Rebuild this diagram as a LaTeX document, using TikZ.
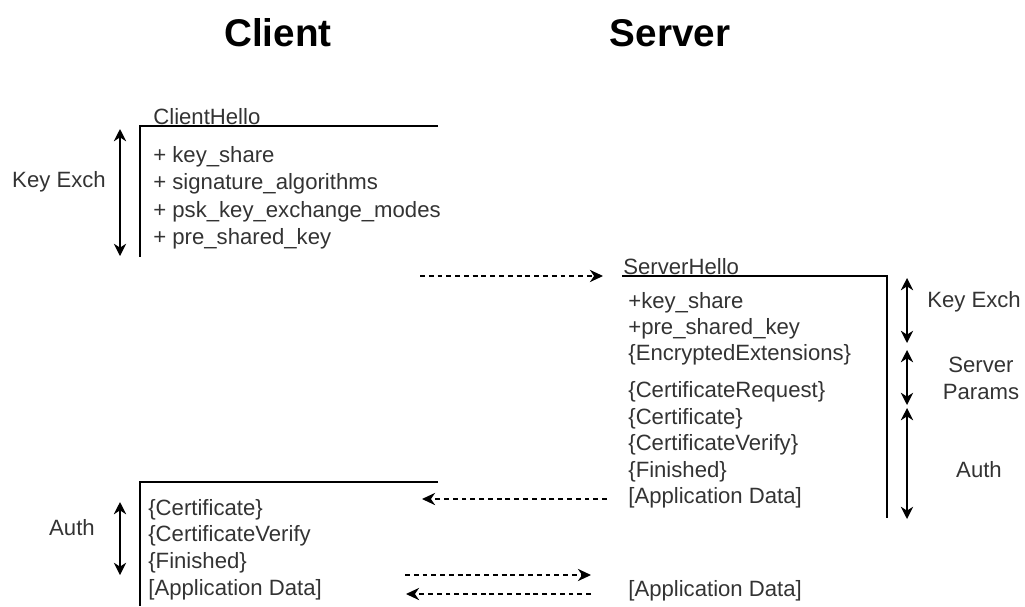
\documentclass[tikz,border=0pt]{standalone}
\usepackage{fontspec}
\setmainfont{Liberation Sans}
\usetikzlibrary{positioning}
\usetikzlibrary{arrows.meta}

\tikzset{
  hdr/.style={inner sep=0pt, font=\fontsize{22}{26}\selectfont\bfseries},
  msg/.style={anchor=west, inner sep=0pt, text=black!80, text height=11pt, text depth=2.5pt, font=\fontsize{12.6}{15}\selectfont},
  phase/.style={inner sep=0pt, align=center, text=black!80, font=\fontsize{12.6}{15.5}\selectfont},
  twoway/.style={{Stealth[length=7pt,width=7pt]}-{Stealth[length=7pt,width=7pt]}, line width=0.85pt},
  flow/.style={-{Stealth[length=7.5pt,width=7pt]}, dash pattern=on 2.8pt off 2.2pt, line width=0.7pt},
  wire/.style={line width=0.6pt}
}

\begin{document}
\begin{tikzpicture}[x=0.02cm, y=-0.02cm]
    \useasboundingbox (0,0) rectangle (1025,606);
    % Headings
    \node [hdr] (client) at (278,33) {Client};
    \node [hdr] (server) at (670,33) {Server};

    % ClientHello
    \node [msg] (chello) at (153,117) {ClientHello};
    \node [msg] (ch1) at (153,155) {+ key\_share};
    \node [msg] (ch2) at (153,182) {+ signature\_algorithms};
    \node [msg] (ch3) at (153,210) {+ psk\_key\_exchange\_modes};
    \node [msg] (ch4) at (153,237) {+ pre\_shared\_key};
    \coordinate (chR) at (438,126);
    \coordinate (chL) at (140,126);
    \coordinate (chB) at (140,257);
    \draw [wire] (chR) -- (chL) -- (chB);
    \coordinate (ckxT) at (120,129);
    \coordinate (ckxB) at (120,256);
    \draw [twoway] (ckxT) -- (ckxB);
    \node [phase] (ckx) at (59,182) {Key Exch};

    % ServerHello
    \node [msg] (shello) at (623,267) {ServerHello};
    \node [msg] (sh1) at (628,301) {+key\_share};
    \node [msg] (sh2) at (628,327) {+pre\_shared\_key};
    \node [msg] (sh3) at (628,353) {\{EncryptedExtensions\}};
    \node [msg] (sh4) at (628,390) {\{CertificateRequest\}};
    \node [msg] (sh5) at (628,417) {\{Certificate\}};
    \node [msg] (sh6) at (628,443) {\{CertificateVerify\}};
    \node [msg] (sh7) at (628,470) {\{Finished\}};
    \node [msg] (sh8) at (628,496) {[Application Data]};
    \coordinate (shL) at (622,276);
    \coordinate (shR) at (887,276);
    \coordinate (shB) at (887,518);
    \draw [wire] (shL) -- (shR) -- (shB);
    \coordinate (skxT) at (907,278);
    \coordinate (skxB) at (907,343);
    \coordinate (sprT) at (907,350);
    \coordinate (sprB) at (907,405);
    \coordinate (sauT) at (907,408);
    \coordinate (sauB) at (907,519);
    \draw [twoway] (skxT) -- (skxB);
    \draw [twoway] (sprT) -- (sprB);
    \draw [twoway] (sauT) -- (sauB);
    \node [phase] (skx) at (974,302) {Key Exch};
    \node [phase] (spr) at (981,378) {Server\\Params};
    \node [phase] (sau) at (979,470) {Auth};

    % Client Finished
    \node [msg] (cf1) at (148,508) {\{Certificate\}};
    \node [msg] (cf2) at (148,534) {\{CertificateVerify};
    \node [msg] (cf3) at (148,561) {\{Finished\}};
    \node [msg] (cf4) at (148,588) {[Application Data]};
    \coordinate (cfR) at (438,482);
    \coordinate (cfL) at (140,482);
    \coordinate (cfB) at (140,606);
    \draw [wire] (cfR) -- (cfL) -- (cfB);
    \coordinate (cauT) at (120,502);
    \coordinate (cauB) at (120,575);
    \draw [twoway] (cauT) -- (cauB);
    \node [phase] (cau) at (72,528) {Auth};

    \node [msg] (appdata) at (628,589) {[Application Data]};

    % Messages
    \coordinate (m1s) at (420,276);
    \coordinate (m1e) at (603,276);
    \draw [flow] (m1s) -- (m1e);
    \coordinate (m2s) at (607,499);
    \coordinate (m2e) at (422,499);
    \draw [flow] (m2s) -- (m2e);
    \coordinate (m3s) at (405,575);
    \coordinate (m3e) at (591,575);
    \draw [flow] (m3s) -- (m3e);
    \coordinate (m4s) at (591,594);
    \coordinate (m4e) at (406,594);
    \draw [flow] (m4s) -- (m4e);
\end{tikzpicture}
\end{document}
